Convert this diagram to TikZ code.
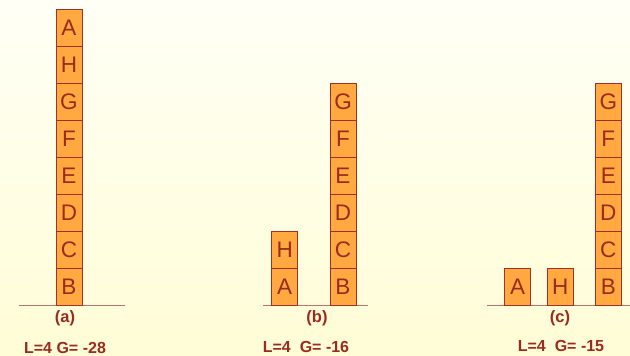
\documentclass[tikz,border=0pt]{standalone}
\usepackage{fontspec}
\setmainfont{Liberation Sans}
\usepackage{xcolor}
\usetikzlibrary{positioning}
\definecolor{blockfill}{HTML}{FFA940}
\definecolor{blockedge}{HTML}{A0302A}
\definecolor{blocktext}{HTML}{9C2A1E}
\definecolor{groundline}{HTML}{B5776B}
\definecolor{bgtop}{HTML}{FFFFF6}
\definecolor{bgbottom}{HTML}{FFFDD6}

\tikzset{
  blk/.style={draw=blockedge, fill=blockfill, line width=0.9pt,
    minimum width=26pt, minimum height=37pt, inner sep=0pt, outer sep=0pt,
    text=blocktext, font=\fontsize{22.5}{22.5}\selectfont},
  caption/.style={text=blocktext, font=\fontsize{16.5}{16.5}\selectfont\bfseries},
  score/.style={text=blocktext, font=\fontsize{16}{16}\selectfont\bfseries},
  ground/.style={groundline, line width=0.9pt}
}

\begin{document}
\begin{tikzpicture}[x=1pt, y=1pt]
  % Background
  \shade[top color=bgtop, bottom color=bgbottom] (0,0) rectangle (630,356);
  \useasboundingbox (0,0) rectangle (630,356);

  % (a) one tower
  \draw[ground] (19,51) -- (125,51);
  \node[blk, anchor=south] (aB) at (69,51) {B};
  \foreach \lbl/\under in {C/B, D/C, E/D, F/E, G/F, H/G, A/H}
    \node[blk, above=0pt of a\under] (a\lbl) {\lbl};
  \node[caption] (capa) at (65,38) {(a)};
  \node[score] (scorea) at (65,8) {L=4 G= -28};

  % (b) H on A, rest stays
  \draw[ground] (263,51) -- (368,51);
  \node[blk, anchor=south] (bA) at (284.7,51) {A};
  \node[blk, above=0pt of bA] (bH) {H};
  \node[blk, anchor=south] (bB) at (343,51) {B};
  \foreach \lbl/\under in {C/B, D/C, E/D, F/E, G/F}
    \node[blk, above=0pt of b\under] (b\lbl) {\lbl};
  \node[caption] (capb) at (317,38) {(b)};
  \node[score] (scoreb) at (306,9) {L=4\ \ G= -16};

  % (c) A and H on the table
  \draw[ground] (487,51) -- (630,51);
  \node[blk, anchor=south] (cA) at (517.5,51) {A};
  \node[blk, anchor=south] (cH) at (560.3,51) {H};
  \node[blk, anchor=south] (cB) at (608.3,51) {B};
  \foreach \lbl/\under in {C/B, D/C, E/D, F/E, G/F}
    \node[blk, above=0pt of c\under] (c\lbl) {\lbl};
  \node[caption] (capc) at (560,38) {(c)};
  \node[score] (scorec) at (561,10) {L=4\ \ G= -15};
\end{tikzpicture}
\end{document}
